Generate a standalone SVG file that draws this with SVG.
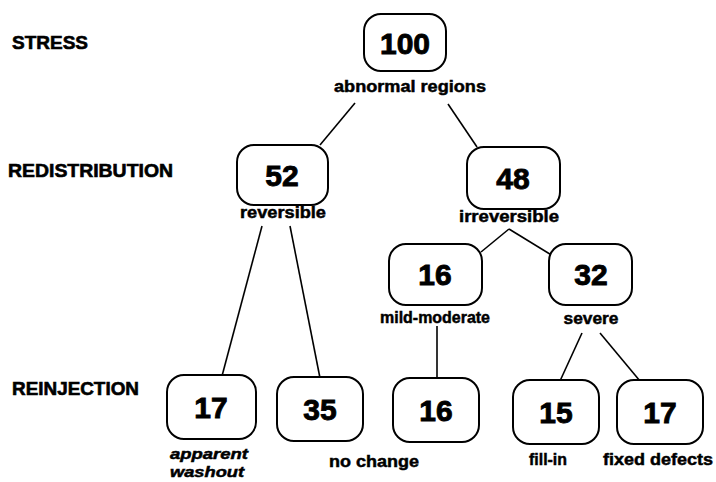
<svg xmlns="http://www.w3.org/2000/svg" width="716" height="482" viewBox="0 0 716 482">
  <style>
    text { font-family: "Liberation Sans", Arial, Helvetica, sans-serif; font-weight: bold; fill: #000; stroke: #000; stroke-width: 0.5; }
    .stage { font-size: 18px; stroke-width: 0.6; }
    .num { font-size: 30px; text-anchor: middle; stroke-width: 0.9; }
    .lbl { font-size: 17px; text-anchor: middle; }
    .ital { font-size: 15px; font-style: italic; }
    .box { fill: #fff; stroke: #000; stroke-width: 2; }
    .edge { fill: none; stroke: #000; stroke-width: 1.6; }
  </style>

  <!-- stage titles -->
  <g id="stages">
    <text class="stage" x="12" y="49" textLength="76" lengthAdjust="spacingAndGlyphs">STRESS</text>
    <text class="stage" x="8" y="177" textLength="165" lengthAdjust="spacingAndGlyphs">REDISTRIBUTION</text>
    <text class="stage" x="12" y="395" textLength="127" lengthAdjust="spacingAndGlyphs">REINJECTION</text>
  </g>

  <!-- connectors -->
  <g id="connectors">
    <line class="edge" x1="355" y1="103" x2="320" y2="145"/>
    <line class="edge" x1="448" y1="104" x2="477" y2="147"/>
    <line class="edge" x1="509" y1="229" x2="481" y2="252"/>
    <line class="edge" x1="509" y1="229" x2="553" y2="256"/>
    <line class="edge" x1="262" y1="226" x2="222" y2="376"/>
    <line class="edge" x1="290" y1="226" x2="320" y2="378"/>
    <line class="edge" x1="437" y1="326" x2="437" y2="379"/>
    <line class="edge" x1="582" y1="333" x2="560" y2="381"/>
    <line class="edge" x1="600" y1="333" x2="640" y2="381"/>
  </g>

  <g id="n100">
    <rect class="box" x="364" y="14" width="82" height="57" rx="17"/>
    <text class="num" x="405" y="54">100</text>
    <text class="lbl" x="410" y="92" textLength="152" lengthAdjust="spacingAndGlyphs">abnormal regions</text>
  </g>

  <g id="n52">
    <rect class="box" x="237" y="145" width="91" height="60" rx="17"/>
    <text class="num" x="282" y="186">52</text>
    <text class="lbl" x="283" y="218" textLength="86" lengthAdjust="spacingAndGlyphs">reversible</text>
  </g>

  <g id="n48">
    <rect class="box" x="467" y="147" width="93" height="62" rx="17"/>
    <text class="num" x="513" y="189">48</text>
    <text class="lbl" x="509" y="222" textLength="100" lengthAdjust="spacingAndGlyphs">irreversible</text>
  </g>

  <g id="n16mid">
    <rect class="box" x="389" y="244" width="93" height="61" rx="17"/>
    <text class="num" x="435" y="285">16</text>
    <text class="lbl" x="435" y="323" textLength="110" lengthAdjust="spacingAndGlyphs">mild-moderate</text>
  </g>

  <g id="n32">
    <rect class="box" x="549" y="244" width="83" height="61" rx="17"/>
    <text class="num" x="591" y="285">32</text>
    <text class="lbl" x="591" y="324" textLength="55" lengthAdjust="spacingAndGlyphs">severe</text>
  </g>

  <g id="n17a">
    <rect class="box" x="167" y="375" width="89" height="64" rx="17"/>
    <text class="num" x="211" y="418">17</text>
    <text class="ital" x="170" y="459" textLength="78" lengthAdjust="spacingAndGlyphs">apparent</text>
    <text class="ital" x="170" y="477" textLength="74" lengthAdjust="spacingAndGlyphs">washout</text>
  </g>

  <g id="n35">
    <rect class="box" x="277" y="377" width="86" height="64" rx="17"/>
    <text class="num" x="320" y="420">35</text>
  </g>

  <g id="n16b">
    <rect class="box" x="393" y="378" width="86" height="64" rx="17"/>
    <text class="num" x="436" y="421">16</text>
    <text class="lbl" x="374" y="467" textLength="90" lengthAdjust="spacingAndGlyphs">no change</text>
  </g>

  <g id="n15">
    <rect class="box" x="513" y="380" width="86" height="64" rx="17"/>
    <text class="num" x="556" y="423">15</text>
    <text class="lbl" x="548" y="465" textLength="38" lengthAdjust="spacingAndGlyphs">fill-in</text>
  </g>

  <g id="n17b">
    <rect class="box" x="617" y="380" width="86" height="64" rx="17"/>
    <text class="num" x="660" y="423">17</text>
    <text class="lbl" x="658" y="465" textLength="110" lengthAdjust="spacingAndGlyphs">fixed defects</text>
  </g>
</svg>
